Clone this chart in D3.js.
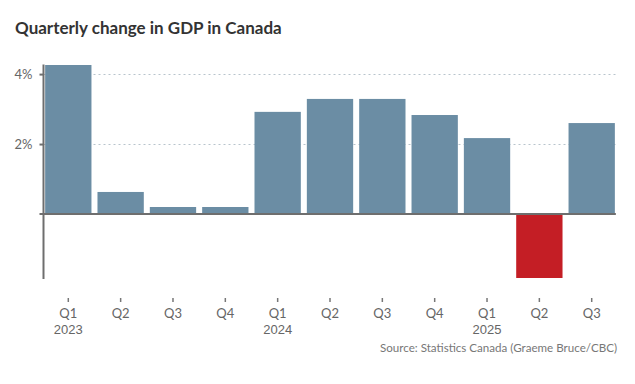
<!DOCTYPE html>
<html>
<head>
<meta charset="utf-8">
<script src="https://cdn.jsdelivr.net/npm/d3@7"></script>
<style>
  body { margin: 0; background: #fff; }
  svg { display: block; font-family: Lato, sans-serif; }
</style>
</head>
<body>
<svg id="chart"></svg>
<script>
// quarters and GDP change (%, annualized)
const quarters = ['Q1', 'Q2', 'Q3', 'Q4', 'Q1', 'Q2', 'Q3', 'Q4', 'Q1', 'Q2', 'Q3'];
const years = ['2023', '', '', '', '2024', '', '', '', '2025', '', ''];
const values = [4.26, 0.63, 0.2, 0.2, 2.92, 3.29, 3.29, 2.83, 2.17, -1.83, 2.6];
const yticks = [2, 4];

const width = 635, height = 384;
const margin = {top: 65, right: 17, bottom: 106, left: 42};

const data = values.map((v, i) => ({id: i, q: quarters[i], year: years[i], value: v}));

const svg = d3.select('#chart')
    .attr('width', width)
    .attr('height', height);

svg.append('text')
    .attr('x', 15)
    .attr('y', 34)
    .attr('fill', '#333')
    .style('font-size', '17px')
    .style('font-weight', 700)
    .text('Quarterly change in GDP in Canada');

const xscale = d3.scaleBand()
    .domain(data.map(d => d.id))
    .range([margin.left, width - margin.right])
    .paddingInner(0.115)
    .paddingOuter(0.06);

const yscale = d3.scaleLinear()
    .domain([d3.min(values), d3.max(values)])
    .range([height - margin.bottom, margin.top]);

const axisX = 43.5;
const x1 = xscale(data.length - 1) + xscale.bandwidth() + 1;

// gridlines
svg.append('g')
    .selectAll('line')
    .data(yticks)
    .join('line')
    .attr('x1', axisX)
    .attr('x2', x1)
    .attr('y1', d => Math.round(yscale(d)) + 0.5)
    .attr('y2', d => Math.round(yscale(d)) + 0.5)
    .attr('stroke', '#b8c4cc')
    .attr('stroke-width', 1)
    .attr('stroke-dasharray', '2,3');

// bars
svg.append('g')
    .selectAll('rect')
    .data(data)
    .join('rect')
    .attr('x', d => xscale(d.id))
    .attr('y', d => yscale(Math.max(0, d.value)))
    .attr('width', xscale.bandwidth())
    .attr('height', d => Math.abs(yscale(d.value) - yscale(0)))
    .attr('fill', d => d.value < 0 ? '#c41e25' : '#6b8da4');

// zero line
svg.append('line')
    .attr('x1', axisX)
    .attr('x2', x1)
    .attr('y1', yscale(0))
    .attr('y2', yscale(0))
    .attr('stroke', '#6e6e6e')
    .attr('stroke-width', 2);

// y axis
const yaxis = d3.axisLeft(yscale)
    .tickValues(yticks)
    .tickSize(4)
    .tickSizeOuter(0)
    .tickFormat(d => d + '%');

const yg = svg.append('g')
    .attr('transform', `translate(${axisX},0)`)
    .call(yaxis);
yg.select('.domain')
    .attr('d', `M0,${yscale.range()[1] - 0.5}V${yscale.range()[0] + 1}`)
    .attr('stroke', '#6e6e6e')
    .attr('stroke-width', 2);
yg.selectAll('.tick line').attr('stroke', '#6e6e6e').attr('stroke-width', 2);
yg.selectAll('.tick text')
    .attr('x', -11)
    .attr('fill', '#666')
    .style('font-size', '13px')
    .style('font-family', 'Lato, sans-serif');
// also put a tick at zero
yg.append('line')
    .attr('x1', -4).attr('x2', 0)
    .attr('y1', yscale(0)).attr('y2', yscale(0))
    .attr('stroke', '#6e6e6e').attr('stroke-width', 2);

// x axis labels
const xaxis = d3.axisBottom(xscale)
    .tickSize(4)
    .tickSizeOuter(0)
    .tickFormat(i => quarters[i]);

const xg = svg.append('g')
    .attr('transform', `translate(0,298)`)
    .call(xaxis);
xg.select('.domain').remove();
xg.selectAll('.tick line').attr('stroke', '#777').attr('stroke-width', 1.5);
xg.selectAll('.tick text')
    .attr('y', 11)
    .attr('fill', '#666')
    .style('font-size', '13px')
    .style('font-family', 'Lato, sans-serif');
xg.selectAll('.tick')
    .append('text')
    .attr('y', 27)
    .attr('dy', '0.71em')
    .attr('fill', '#666')
    .attr('text-anchor', 'middle')
    .style('font-size', '13px')
    .text(i => years[i]);

svg.append('text')
    .attr('x', 617)
    .attr('y', 352)
    .attr('text-anchor', 'end')
    .attr('fill', '#777')
    .style('font-size', '11.6px')
    .text('Source: Statistics Canada (Graeme Bruce/CBC)');
</script>
</body>
</html>
